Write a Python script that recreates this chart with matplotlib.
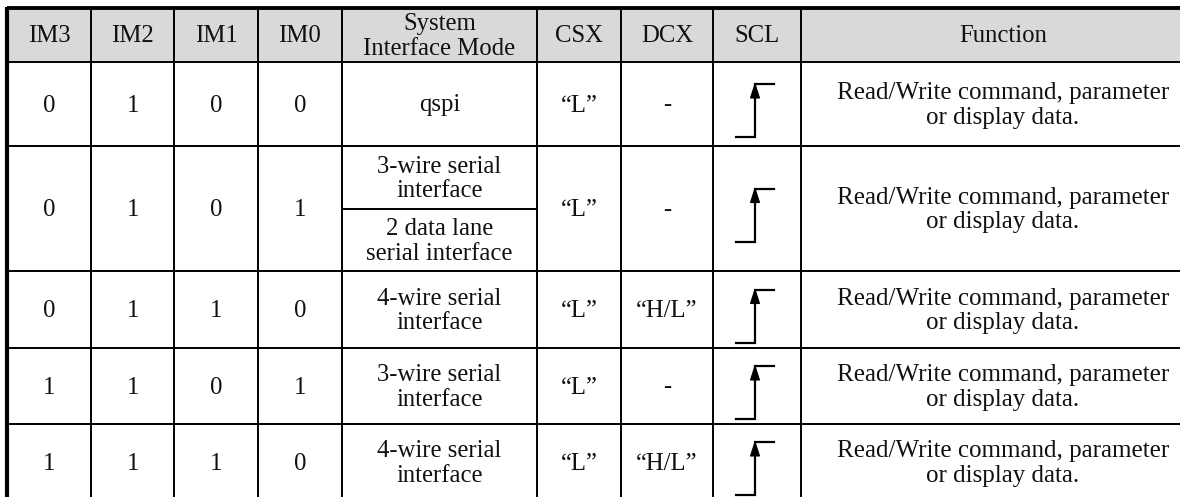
import matplotlib.pyplot as plt
from matplotlib.patches import Rectangle, Polygon

# table content
headers = ['IM3', 'IM2', 'IM1', 'IM0', 'System\nInterface Mode', 'CSX', 'DCX', 'SCL', 'Function']
im3 = ['0', '0', '0', '1', '1']
im2 = ['1', '1', '1', '1', '1']
im1 = ['0', '0', '1', '0', '1']
im0 = ['0', '1', '0', '1', '0']
mode = ['qspi', None, '4-wire serial\ninterface', '3-wire serial\ninterface', '4-wire serial\ninterface']
mode_split = ['3-wire serial\ninterface', '2 data lane\nserial interface']  # row 2 has two sub cells
csx = ['\u201cL\u201d'] * 5
dcx = ['-', '-', '\u201cH/L\u201d', '-', '\u201cH/L\u201d']
func = ['Read/Write command, parameter\nor display data.'] * 5

# layout in pixel coords
col_x = [7, 91, 174, 258, 342, 537, 621, 713, 801, 1205]
row_y = [8, 62, 146, 271, 348, 424, 500]
split_y = 209
W, H = 1180, 497

plt.rcParams['font.family'] = ['Liberation Serif', 'DejaVu Serif']
fs = 17.8

fig = plt.figure(figsize=(W / 100, H / 100), dpi=100)
ax = fig.add_axes([0, 0, 1, 1])
ax.set_xlim(0, W)
ax.set_ylim(H, 0)
ax.axis('off')

# header background
ax.add_patch(Rectangle((col_x[0], row_y[0]), col_x[-1] - col_x[0], row_y[1] - row_y[0],
                       facecolor='#d9d9d9', edgecolor='none'))

# grid lines
for x in col_x[1:-1]:
    ax.plot([x, x], [row_y[0], row_y[-1]], color='black', lw=1.4, solid_capstyle='butt')
for y in row_y[1:]:
    ax.plot([col_x[0], col_x[-1]], [y, y], color='black', lw=1.4, solid_capstyle='butt')
ax.plot([col_x[4], col_x[5]], [split_y, split_y], color='black', lw=1.4, solid_capstyle='butt')
# thick outer border (top and left)
ax.plot([col_x[0], col_x[-1]], [row_y[0], row_y[0]], color='black', lw=2.8, solid_capstyle='butt')
ax.plot([col_x[0], col_x[0]], [row_y[0] - 1, row_y[-1]], color='black', lw=3.0, solid_capstyle='butt')


def cell_text(ci, y0, y1, s, size=fs):
    xc = (col_x[ci] + col_x[ci + 1]) / 2
    ax.text(xc, (y0 + y1) / 2 + 1.5, s, ha='center', va='center', fontsize=size,
            linespacing=1.15, color='#111111')


for ci, h in enumerate(headers):
    cell_text(ci, row_y[0], row_y[1], h)


def scl_edge(ri):
    xc = (col_x[7] + col_x[8]) / 2 - 2
    yc = (row_y[ri + 1] + row_y[ri + 2]) / 2 + 6
    top, bot = yc - 26, yc + 27
    ax.plot([xc - 19, xc, xc, xc + 19], [bot, bot, top, top],
            color='black', lw=1.6, solid_joinstyle='miter')
    ax.add_patch(Polygon([[xc - 4.5, top + 14], [xc + 4.5, top + 14], [xc, top]],
                         closed=True, facecolor='black', edgecolor='black', lw=0.8))


for ri in range(5):
    y0, y1 = row_y[ri + 1], row_y[ri + 2]
    cell_text(0, y0, y1, im3[ri])
    cell_text(1, y0, y1, im2[ri])
    cell_text(2, y0, y1, im1[ri])
    cell_text(3, y0, y1, im0[ri])
    if mode[ri] is None:
        cell_text(4, y0, split_y, mode_split[0])
        cell_text(4, split_y, y1, mode_split[1])
    else:
        cell_text(4, y0, y1, mode[ri])
    cell_text(5, y0, y1, csx[ri])
    cell_text(6, y0, y1, dcx[ri])
    cell_text(8, y0, y1, func[ri], size=18)
    scl_edge(ri)

fig.savefig('out.png', dpi=100, facecolor='white')
